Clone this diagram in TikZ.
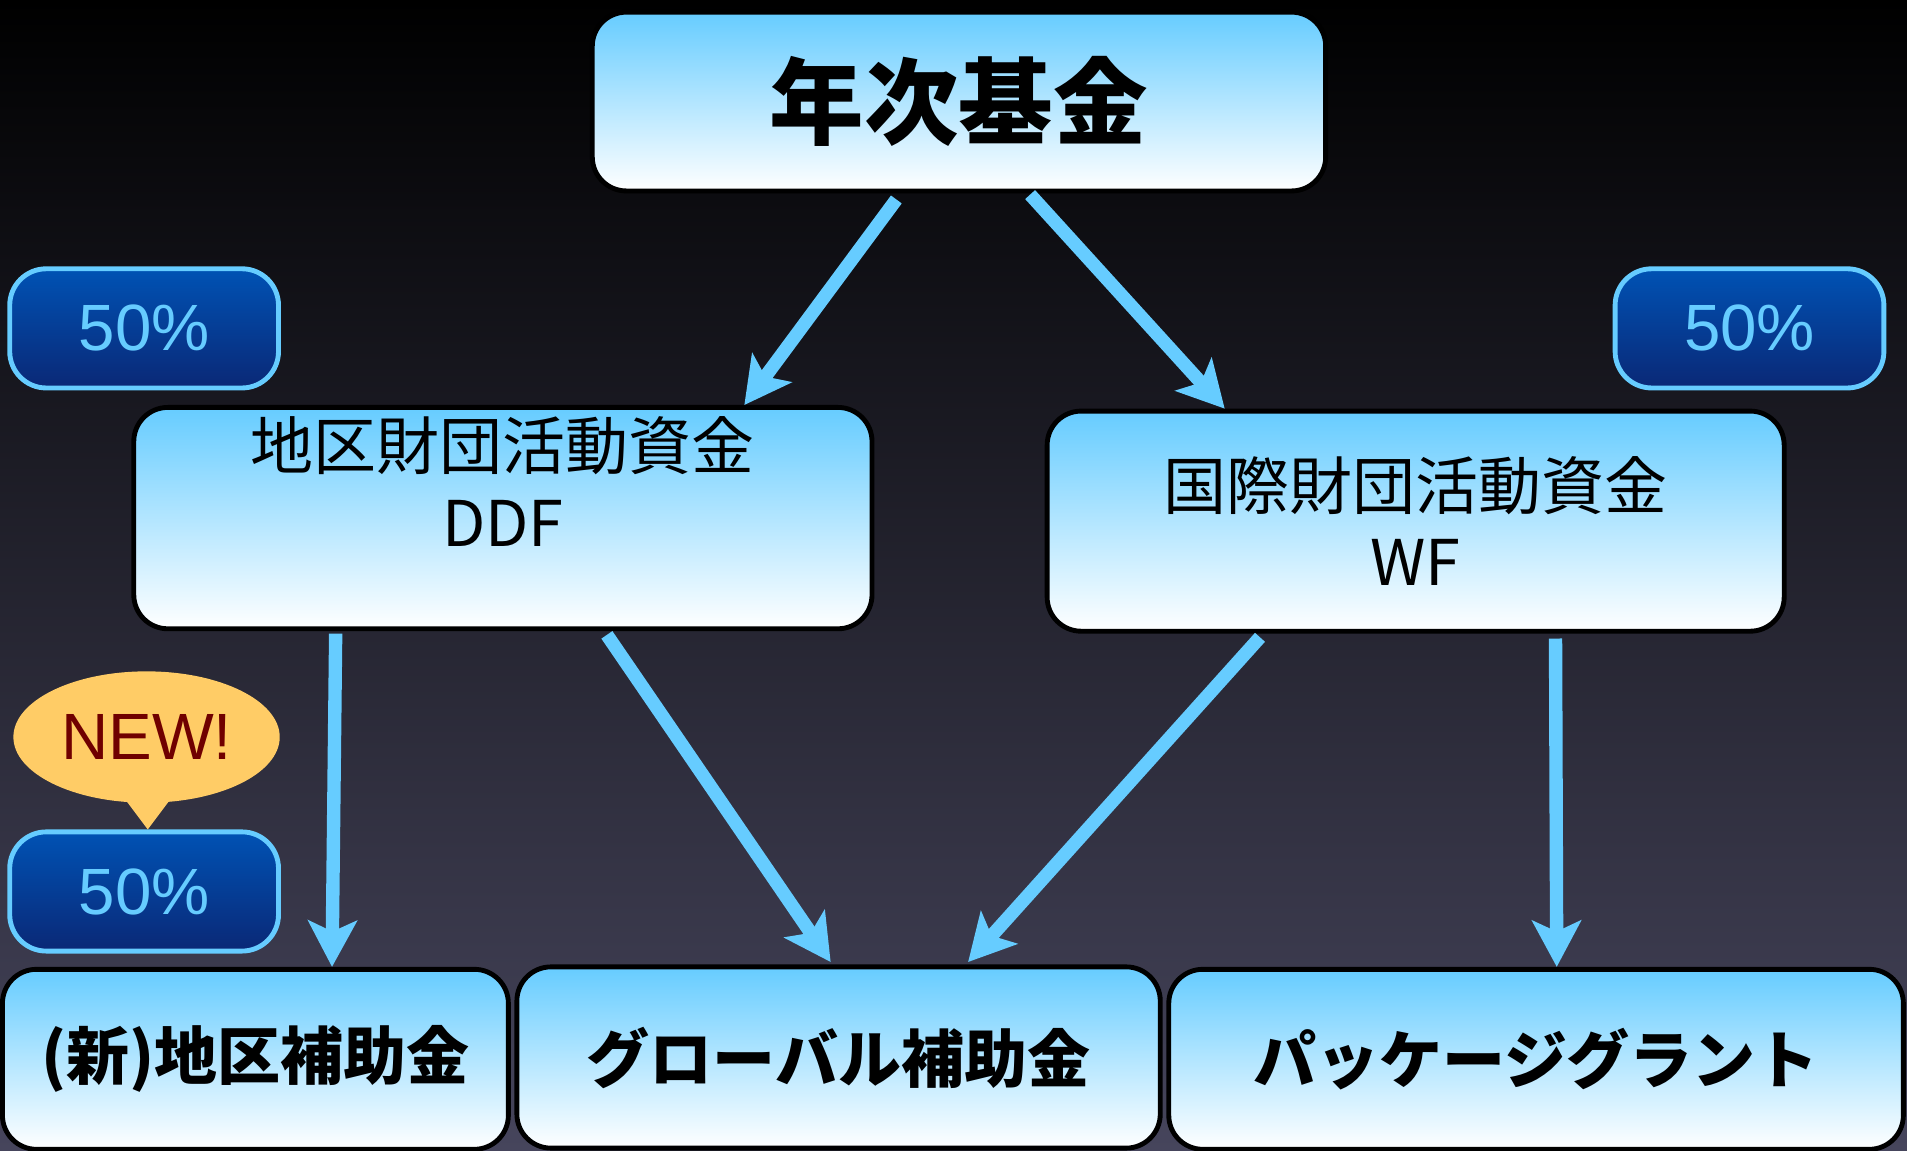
\documentclass[tikz,border=0pt]{standalone}
\usepackage{fontspec}
\newfontfamily\jp{Noto Sans CJK JP}
\newfontfamily\lat{Liberation Sans}
\usetikzlibrary{arrows.meta,shapes.geometric}
\definecolor{skyb}{RGB}{102,204,255}
\definecolor{pcttop}{RGB}{0,82,180}
\definecolor{pctbot}{RGB}{10,40,118}
\definecolor{newc}{RGB}{255,204,102}
\definecolor{newtxt}{RGB}{112,0,0}
\definecolor{bgmid}{RGB}{18,18,38}
\definecolor{bgbot}{RGB}{70,69,92}
\tikzset{
  bluebox/.style={rectangle, rounded corners=28bp, draw=black, line width=4bp,
    top color=skyb, bottom color=white, inner sep=0pt, text=black},
  pctbox/.style={rectangle, rounded corners=30bp, draw=skyb, line width=4bp,
    top color=pcttop, bottom color=pctbot, text=skyb,
    font=\lat\fontsize{54}{60}\selectfont, minimum width=221bp, minimum height=98bp},
  flow/.style={draw=skyb, line width=11bp,
    -{Stealth[length=38bp,width=40bp,inset=9bp]}},
  bigfont/.style={font=\jp\bfseries\fontsize{78}{84}\selectfont},
  midfont/.style={font=\jp\fontsize{52}{63}\selectfont, align=center},
  botfont/.style={font=\jp\bfseries\fontsize{52}{60}\selectfont},
}
\begin{document}
\begin{tikzpicture}[x=1bp,y=-1bp]
% background
\shade[top color=black, middle color=bgmid, bottom color=bgbot] (0,0) rectangle (1568,946);
\useasboundingbox (0,0) rectangle (1568,946);

% main boxes
\node[bluebox, bigfont, minimum width=603bp, minimum height=147bp] (nenji) at (788.5,83.5) {年次基金};
\node[bluebox, minimum width=607bp, minimum height=182bp] (ddf) at (413.5,426) {};
\node[midfont] (ddftext) at (413.5,396) {地区財団活動資金\\DDF};
\node[bluebox, midfont, minimum width=606bp, minimum height=181bp] (wf) at (1164,428.5) {国際財団活動資金\\WF};

\node[bluebox, botfont, minimum width=416bp, minimum height=148bp] (chiku) at (210,871) {(新)地区補助金};
\node[bluebox, botfont, minimum width=529bp, minimum height=149bp] (glob) at (689.5,869.5) {グローバル補助金};
\node[bluebox, botfont, minimum width=604bp, minimum height=148bp] (pkg) at (1263,871) {パッケージグラント};

% percentage boxes
\node[pctbox] (pl) at (118.5,270) {50\%};
\node[pctbox] (pr) at (1438.5,270) {50\%};
\node[pctbox] (pb) at (118.5,733) {50\%};

% NEW! bubble
\fill[newc] ([xshift=-20bp,yshift=6bp]120.5,660) -- ([xshift=3bp]pb.north) -- ([xshift=22bp,yshift=6bp]120.5,660) -- cycle;
\node[ellipse, fill=newc, minimum width=219bp, minimum height=108bp, inner sep=0pt,
  text=newtxt, font=\lat\fontsize{54}{60}\selectfont] (new) at (120.5,606) {NEW!};

% arrows
\draw[flow] ([xshift=-51.5bp,yshift=-5bp]nenji.south) -- ([xshift=198.5bp]ddf.north);
\draw[flow] ([xshift=58.5bp,yshift=-1bp]nenji.south) -- ([xshift=-157bp]wf.north);
\draw[flow] ([xshift=-137.5bp,yshift=-2bp]ddf.south) -- ([xshift=63bp]chiku.north);
\draw[flow] ([xshift=85.5bp,yshift=-3bp]ddf.south) -- ([xshift=-6.5bp,yshift=2bp]glob.north);
\draw[flow] ([xshift=-128bp,yshift=-3bp]wf.south) -- ([xshift=106.5bp,yshift=2bp]glob.north);
\draw[flow] ([xshift=115bp,yshift=-4bp]wf.south) -- ([xshift=17bp]pkg.north);
\end{tikzpicture}
\end{document}
